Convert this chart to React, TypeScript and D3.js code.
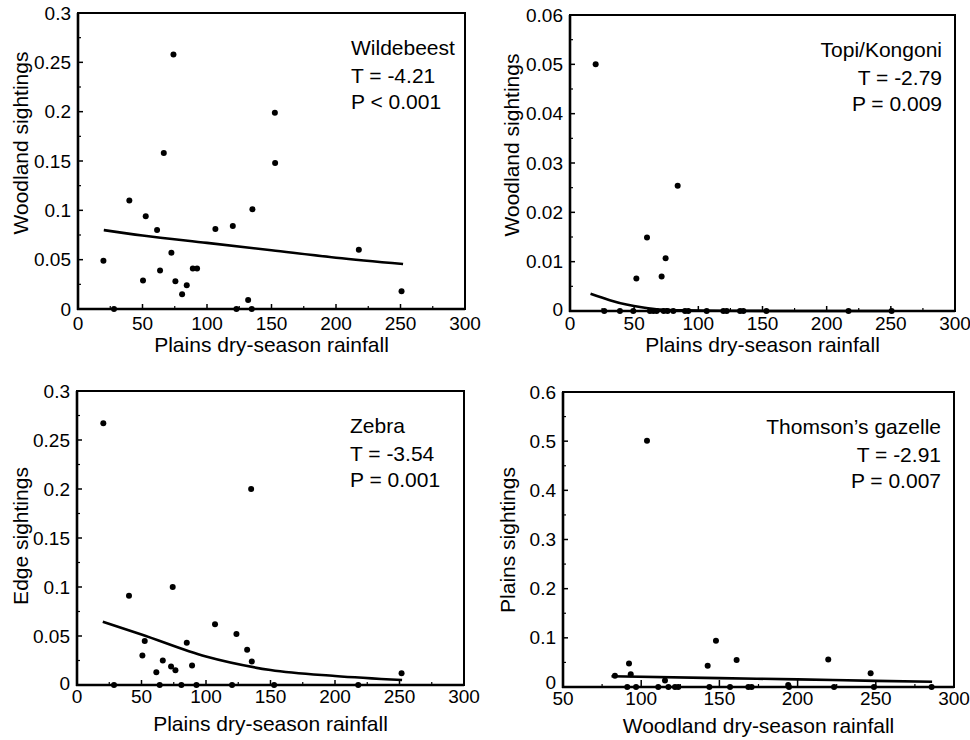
import React from "react";
import * as d3 from "d3";

// ---------- DATA ----------
const wildX = [19.7, 27.9, 39.8, 50.4, 52.5, 61.3, 63.6, 66.5, 72.4, 74, 75.5, 80.7, 84.3, 89, 92.3, 106.5, 120, 122.8, 131.9, 134.7, 135.2, 152.6, 152.8, 217.7, 250.8];
const wildY = [0.049, 0, 0.110, 0.029, 0.094, 0.080, 0.039, 0.158, 0.057, 0.258, 0.028, 0.015, 0.024, 0.041, 0.041, 0.081, 0.084, 0, 0.009, 0, 0.101, 0.199, 0.148, 0.060, 0.018];
const wildFitX = [20, 50, 100, 150, 200, 252];
const wildFitY = [0.080, 0.0745, 0.067, 0.0595, 0.052, 0.0456];

const topiX = [20, 26.7, 38.9, 49.3, 51.7, 60, 62.3, 64.9, 67.5, 71.4, 73, 74.5, 76, 80.5, 83.9, 89.6, 92.2, 106.5, 119.5, 122.1, 132.5, 135.1, 153, 217, 250.6];
const topiY = [0.050, 0, 0, 0, 0.0066, 0.0149, 0, 0, 0, 0.0070, 0, 0.0107, 0, 0, 0.0254, 0, 0, 0, 0, 0, 0, 0, 0, 0, 0];
const topiFitX = [16, 31, 44, 57, 70, 90, 120, 160, 200, 252];
const topiFitY = [0.0035, 0.0022, 0.0013, 0.0007, 0.0003, 0.00012, 0.00004, 0.00001, 0, 0];

const zebraX = [20.4, 28.7, 40.3, 50.7, 52.5, 61.5, 64.1, 66.5, 72.9, 74.2, 76.3, 80.9, 85.1, 89.2, 92.6, 107, 120.2, 123.6, 131.9, 135, 135.5, 152.8, 218, 251.6];
const zebraY = [0.267, 0, 0.091, 0.030, 0.045, 0.013, 0, 0.025, 0.019, 0.100, 0.015, 0, 0.043, 0.020, 0, 0.062, 0, 0.052, 0.036, 0.200, 0.024, 0, 0, 0.012];
const zebraFitX = [20, 50, 100, 150, 200, 252];
const zebraFitY = [0.0646, 0.0515, 0.029, 0.0153, 0.0092, 0.0051];

const tommyX = [83.2, 91.1, 92.2, 93.3, 96.7, 103.7, 110.9, 115.2, 117.4, 121.6, 123.7, 142.5, 143.6, 147.8, 156.8, 161, 168.5, 170.6, 194, 194.5, 219.6, 223.3, 246.7, 248.8, 285.7];
const tommyY = [0.023, 0, 0.048, 0.026, 0, 0.501, 0, 0.013, 0, 0, 0, 0.043, 0, 0.094, 0, 0.055, 0, 0, 0.004, 0, 0.056, 0, 0.028, 0, 0];
const tommyFitX = [81, 150, 200, 250, 286];
const tommyFitY = [0.022, 0.018, 0.0155, 0.0125, 0.0108];

const xTicksA = [0, 50, 100, 150, 200, 250, 300];
const xTicksB = [50, 100, 150, 200, 250, 300];
const yTicks03 = [0, 0.05, 0.1, 0.15, 0.2, 0.25, 0.3];
const yTicks006 = [0, 0.01, 0.02, 0.03, 0.04, 0.05, 0.06];
const yTicks06 = [0, 0.1, 0.2, 0.3, 0.4, 0.5, 0.6];

const titles = ["Wildebeest", "Topi/Kongoni", "Zebra", "Thomson\u2019s gazelle"];
const tStats = ["T = -4.21", "T = -2.79", "T = -3.54", "T = -2.91"];
const pStats = ["P < 0.001", "P = 0.009", "P = 0.001", "P = 0.007"];
const xTitles = ["Plains dry-season rainfall", "Plains dry-season rainfall", "Plains dry-season rainfall", "Woodland dry-season rainfall"];
const yTitles = ["Woodland sightings", "Woodland sightings", "Edge sightings", "Plains sightings"];

const FONT = "'Liberation Sans', Arial, Helvetica, sans-serif";

type PanelCfg = {
  left: number; right: number; top: number; bottom: number;
  xDomain: [number, number]; yDomain: [number, number];
  xTicks: number[]; yTicks: number[];
  xs: number[]; ys: number[]; fx: number[]; fy: number[];
  idx: number; annoRight: boolean; xLabelDy: number; xTitleY: number;
  yTitleX: number; yTitleY: number; majorX: number; zeroShift: number;
};

const panels: PanelCfg[] = [
  { left: 78, right: 465, top: 13, bottom: 309, xDomain: [0, 300], yDomain: [0, 0.3], xTicks: xTicksA, yTicks: yTicks03,
    xs: wildX, ys: wildY, fx: wildFitX, fy: wildFitY, idx: 0, annoRight: false, xLabelDy: 21, xTitleY: 352, yTitleX: 28, yTitleY: 143, majorX: 5, zeroShift: 0 },
  { left: 570, right: 955, top: 15, bottom: 311, xDomain: [0, 300], yDomain: [0, 0.06], xTicks: xTicksA, yTicks: yTicks006,
    xs: topiX, ys: topiY, fx: topiFitX, fy: topiFitY, idx: 1, annoRight: true, xLabelDy: 19, xTitleY: 352, yTitleX: 519, yTitleY: 145, majorX: 5, zeroShift: -2 },
  { left: 77, right: 464, top: 391, bottom: 685, xDomain: [0, 300], yDomain: [0, 0.3], xTicks: xTicksA, yTicks: yTicks03,
    xs: zebraX, ys: zebraY, fx: zebraFitX, fy: zebraFitY, idx: 2, annoRight: false, xLabelDy: 18, xTitleY: 731, yTitleX: 28, yTitleY: 536, majorX: 5, zeroShift: -2 },
  { left: 563, right: 954, top: 392, bottom: 687, xDomain: [50, 300], yDomain: [0, 0.6], xTicks: xTicksB, yTicks: yTicks06,
    xs: tommyX, ys: tommyY, fx: tommyFitX, fy: tommyFitY, idx: 3, annoRight: true, xLabelDy: 18, xTitleY: 733, yTitleX: 515, yTitleY: 540, majorX: 7, zeroShift: -5 },
];

function fmt(v: number): string {
  return v === 0 ? "0" : String(+v.toFixed(3));
}

function Panel({ c }: { c: PanelCfg }) {
  const x = d3.scaleLinear().domain(c.xDomain).range([c.left, c.right]);
  const y = d3.scaleLinear().domain(c.yDomain).range([c.bottom, c.top]);
  const fitPts = c.fx.map((v, i) => [v, c.fy[i]] as [number, number]);
  const line = d3.line<[number, number]>().x(d => x(d[0])).y(d => y(d[1])).curve(d3.curveMonotoneX);
  const yStep = c.yTicks[1] - c.yTicks[0];
  const yMinor = c.yTicks.slice(0, -1).map(t => t + yStep / 2);
  const xStep = c.xTicks[1] - c.xTicks[0];
  const xMinor = c.xTicks.slice(0, -1).map(t => t + xStep / 2);
  const annoX = c.annoRight ? c.right - 13 : c.right - 114;
  const anchor = c.annoRight ? "end" : "start";
  const cx = (c.left + c.right) / 2;
  return (
    <g>
      <rect x={c.left} y={c.top} width={c.right - c.left} height={c.bottom - c.top} fill="none" stroke="#000" strokeWidth={2} />
      <line x1={c.left} x2={c.left} y1={c.top} y2={c.bottom + 1} stroke="#000" strokeWidth={2.6} />
      <line x1={c.left - 1} x2={c.right} y1={c.bottom} y2={c.bottom} stroke="#000" strokeWidth={2.6} />
      {c.yTicks.map(t => (
        <g key={"yt" + t}>
          <line x1={c.left} x2={c.left + 5} y1={y(t)} y2={y(t)} stroke="#000" strokeWidth={1.5} />
          <text x={c.left - 7} y={y(t) + (t === 0 ? c.zeroShift : 0)} dy="0.35em" textAnchor="end" fontSize={19} fontFamily={FONT}>{fmt(t)}</text>
        </g>
      ))}
      {yMinor.map(t => (
        <line key={"ym" + t} x1={c.left} x2={c.left + 3} y1={y(t)} y2={y(t)} stroke="#000" strokeWidth={1.2} />
      ))}
      {c.xTicks.map(t => (
        <g key={"xt" + t}>
          <line x1={x(t)} x2={x(t)} y1={c.bottom} y2={c.bottom - c.majorX} stroke="#000" strokeWidth={1.5} />
          <text x={x(t)} y={c.bottom + c.xLabelDy} textAnchor="middle" fontSize={19} fontFamily={FONT}>{fmt(t)}</text>
        </g>
      ))}
      {xMinor.map(t => (
        <line key={"xm" + t} x1={x(t)} x2={x(t)} y1={c.bottom} y2={c.bottom - 3} stroke="#000" strokeWidth={1.2} />
      ))}
      <path d={line(fitPts) || ""} fill="none" stroke="#000" strokeWidth={2.6} />
      {c.xs.map((v, i) => (
        <circle key={"p" + i} cx={x(v)} cy={y(c.ys[i])} r={3} fill="#000" />
      ))}
      <g fontSize={21} fontFamily={FONT} textAnchor={anchor}>
        <text x={annoX} y={c.top + 42}>{titles[c.idx]}</text>
        <text x={annoX} y={c.top + 70}>{tStats[c.idx]}</text>
        <text x={annoX} y={c.top + 96}>{pStats[c.idx]}</text>
      </g>
      <text x={cx} y={c.xTitleY} textAnchor="middle" fontSize={21} fontFamily={FONT}>{xTitles[c.idx]}</text>
      <text transform={`translate(${c.yTitleX},${c.yTitleY}) rotate(-90)`} textAnchor="middle" fontSize={21} fontFamily={FONT}>{yTitles[c.idx]}</text>
    </g>
  );
}

export default function App() {
  return (
    <svg width={970} height={740} style={{ position: "absolute", left: 0, top: 0, background: "#fff" }}>
      <rect width={970} height={740} fill="#fff" />
      {panels.map((c, i) => <Panel key={i} c={c} />)}
    </svg>
  );
}
